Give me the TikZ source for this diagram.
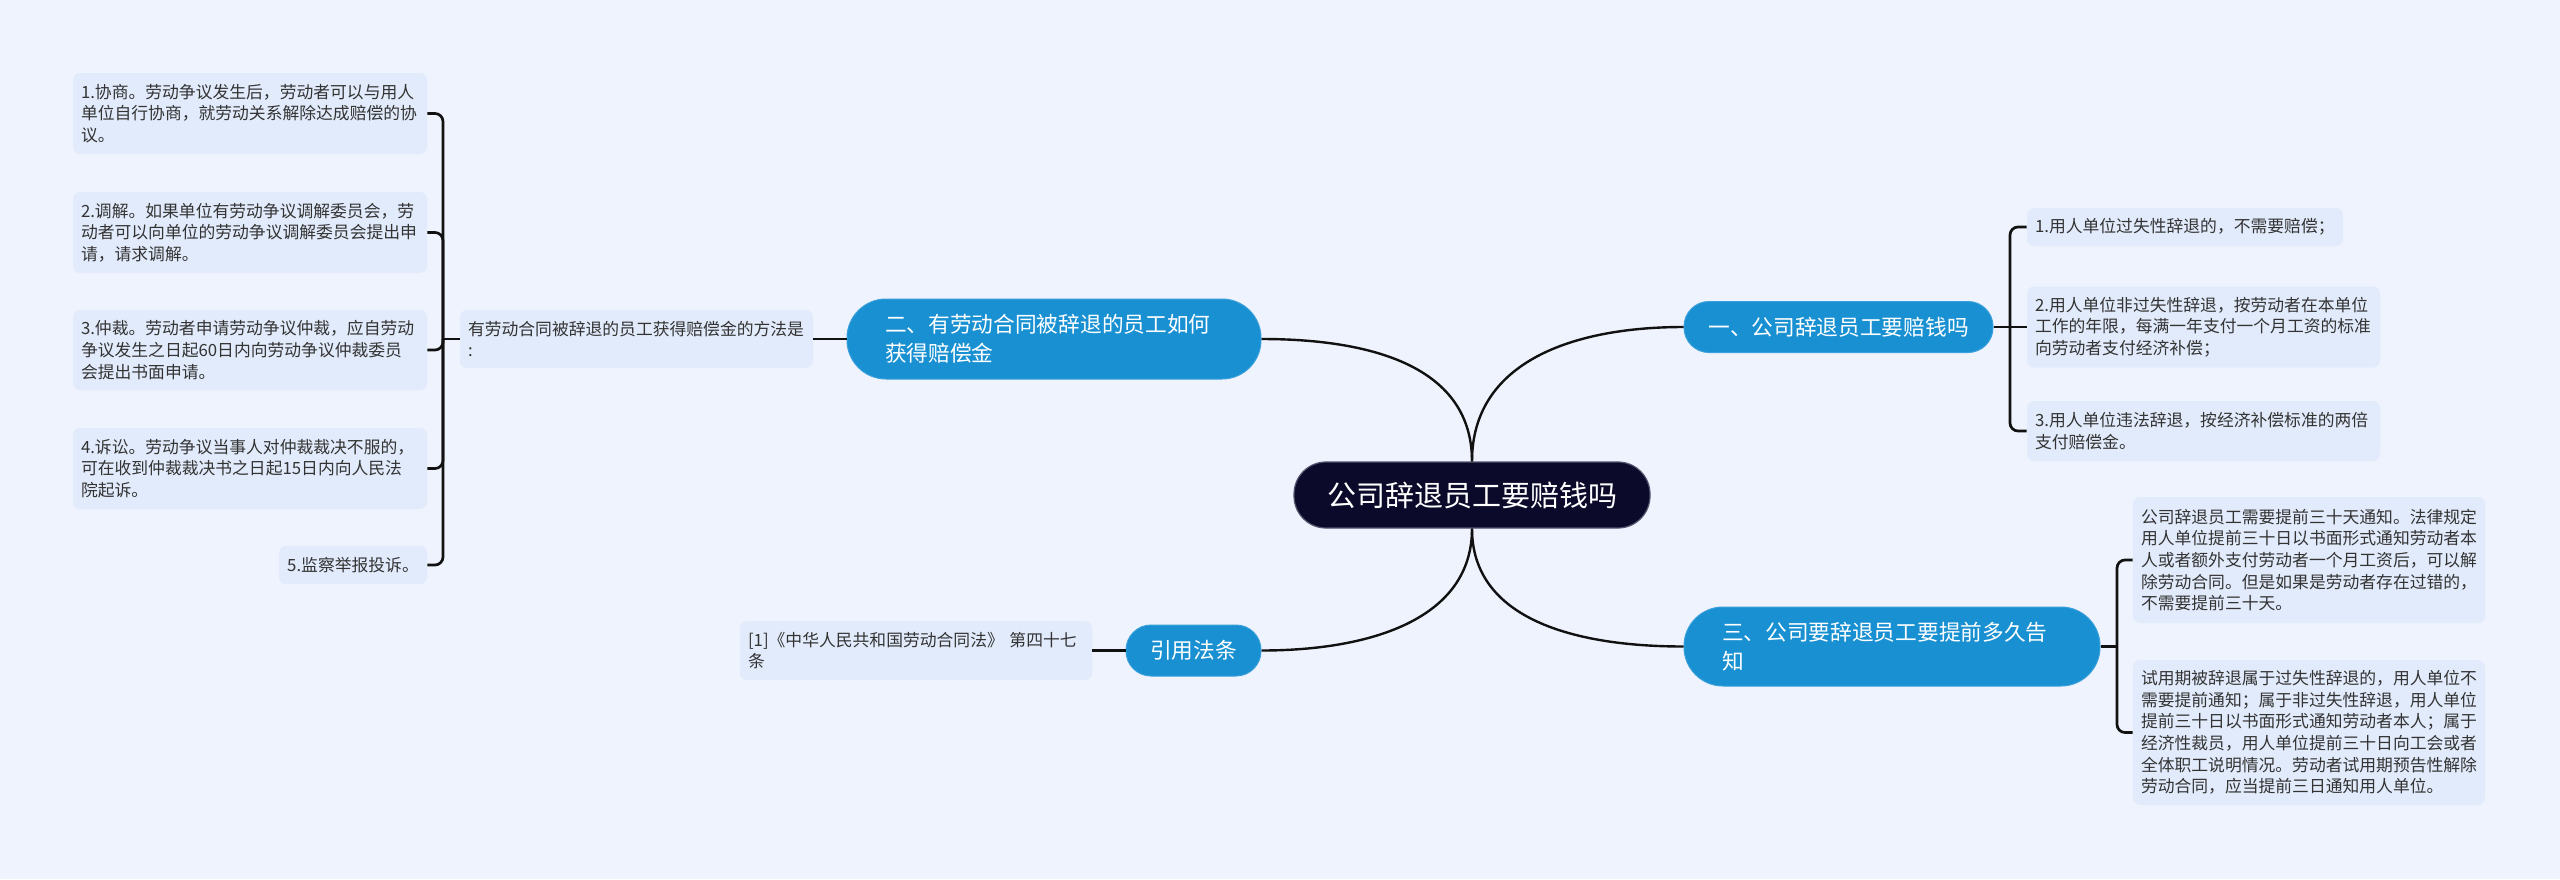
\documentclass[tikz,border=0pt]{standalone}
\usepackage{fontspec}
\setmainfont{Noto Sans CJK SC}
\definecolor{bgc}{HTML}{EEF3FD}
\definecolor{leafc}{HTML}{E2EBFB}
\definecolor{brc}{HTML}{1890D2}
\definecolor{brd}{HTML}{3A9FDA}
\definecolor{rootc}{HTML}{0B0A2B}
\definecolor{rootd}{HTML}{55556E}
\definecolor{linec}{HTML}{111111}
\definecolor{txtc}{HTML}{333333}
\begin{document}
\begin{tikzpicture}[x=0.5pt,y=-0.5pt,
  leaf/.style={fill=leafc, rounded corners=3.5pt, inner xsep=4pt, inner ysep=0pt, align=left, text=txtc, font=\fontsize{8.4pt}{10.85pt}\selectfont},
  branch/.style={fill=brc, draw=brd, line width=0.5pt, text=white, inner ysep=0pt, font=\fontsize{10.85pt}{14.3pt}\selectfont},
  curve/.style={draw=linec, line width=1.2pt},
  brk/.style={draw=linec, line width=1.35pt, rounded corners=4pt}]
\fill[bgc] (0,0) rectangle (2560,879);
\useasboundingbox (0,0) rectangle (2560,879);

% root
\node[fill=rootc, draw=rootd, line width=0.6pt, rounded corners=16pt, minimum width=178pt, minimum height=33pt, inner sep=0pt, text=white, font=\fontsize{14.5pt}{17pt}\selectfont] (root) at (1472,495) {公司辞退员工要赔钱吗};

% branches
\node[branch, rounded corners=12.5pt, minimum width=154.5pt, minimum height=25.5pt, inner xsep=0pt] (b1) at (1838.5,327) {一、公司辞退员工要赔钱吗};
\node[branch, rounded corners=19.5pt, minimum height=40pt, inner xsep=19pt, text width=169pt, align=left] (b2) at (1054,339) {二、有劳动合同被辞退的员工如何\\获得赔偿金};
\node[branch, rounded corners=19.5pt, minimum height=39.5pt, inner xsep=19pt, text width=170pt, align=left] (b3) at (1892,646.5) {三、公司要辞退员工要提前多久告\\知};
\node[branch, rounded corners=12.5pt, minimum width=67.5pt, minimum height=25.5pt, inner xsep=0pt] (b4) at (1193.5,650.5) {引用法条};

% left side
\node[leaf, text width=168.5pt, minimum height=29pt] (m) at (636.5,339) {有劳动合同被辞退的员工获得赔偿金的方法是\\:};
\node[leaf, text width=169pt, minimum height=40.5pt] (L1) at (250,113.5) {1.协商。劳动争议发生后，劳动者可以与用人\\单位自行协商，就劳动关系解除达成赔偿的协\\议。};
\node[leaf, text width=169pt, minimum height=40.5pt] (L2) at (250,232.5) {2.调解。如果单位有劳动争议调解委员会，劳\\动者可以向单位的劳动争议调解委员会提出申\\请，请求调解。};
\node[leaf, text width=169pt, minimum height=40pt] (L3) at (250,350) {3.仲裁。劳动者申请劳动争议仲裁，应自劳动\\争议发生之日起60日内向劳动争议仲裁委员\\会提出书面申请。};
\node[leaf, text width=169pt, minimum height=40.5pt] (L4) at (250,468.5) {4.诉讼。劳动争议当事人对仲裁裁决不服的，\\可在收到仲裁裁决书之日起15日内向人民法\\院起诉。};
\node[leaf, minimum width=74pt, minimum height=19pt] (L5) at (353,565) {5.监察举报投诉。};

\node[leaf, text width=168pt, minimum height=29.5pt] (cite) at (916,650.5) {[1]《中华人民共和国劳动合同法》 第四十七\\条};

% right side
\node[leaf, text width=150pt, minimum height=19pt] (R1) at (2185,227) {1.用人单位过失性辞退的，不需要赔偿；};
\node[leaf, text width=168.5pt, minimum height=40.5pt] (R2) at (2203.5,327) {2.用人单位非过失性辞退，按劳动者在本单位\\工作的年限，每满一年支付一个月工资的标准\\向劳动者支付经济补偿；};
\node[leaf, text width=168.5pt, minimum height=30pt] (R3) at (2203.5,431) {3.用人单位违法辞退，按经济补偿标准的两倍\\支付赔偿金。};

\node[leaf, text width=168pt, minimum height=63pt] (S1) at (2309,560) {公司辞退员工需要提前三十天通知。法律规定\\用人单位提前三十日以书面形式通知劳动者本\\人或者额外支付劳动者一个月工资后，可以解\\除劳动合同。但是如果是劳动者存在过错的，\\不需要提前三十天。};
\node[leaf, text width=168pt, minimum height=72.5pt] (S2) at (2309,732.5) {试用期被辞退属于过失性辞退的，用人单位不\\需要提前通知；属于非过失性辞退，用人单位\\提前三十日以书面形式通知劳动者本人；属于\\经济性裁员，用人单位提前三十日向工会或者\\全体职工说明情况。劳动者试用期预告性解除\\劳动合同，应当提前三日通知用人单位。};

% main curves
\draw[curve] (root.north) .. controls +(0,-100) and +(-110,0) .. (b1.west);
\draw[curve] (root.north) .. controls +(0,-95) and +(110,0) .. (b2.east);
\draw[curve] (root.south) .. controls +(0,90) and +(-110,0) .. (b3.west);
\draw[curve] (root.south) .. controls +(0,90) and +(110,0) .. (b4.east);

% spines
\coordinate (sL) at (443,0);
\coordinate (sR) at (2010,0);
\coordinate (sS) at (2117,0);

\draw[brk] (L1.east) -- (L1.east -| sL) -- (L5.east -| sL) -- (L5.east);
\foreach \n in {L2,L3,L4} \draw[brk] (\n.east) -- (\n.east -| sL) -- (m.west -| sL);
\draw[brk] (m.west) -- (m.west -| sL);
\draw[brk] (m.east) -- (b2.west);
\draw[brk] (cite.east) -- (b4.west);

\draw[brk] (R1.west) -- (R1.west -| sR) -- (R3.west -| sR) -- (R3.west);
\draw[brk] (b1.east) -- (R2.west);

\draw[brk] (S1.west) -- (S1.west -| sS) -- (S2.west -| sS) -- (S2.west);
\draw[brk] (b3.east) -- (b3.east -| sS);
\end{tikzpicture}
\end{document}
